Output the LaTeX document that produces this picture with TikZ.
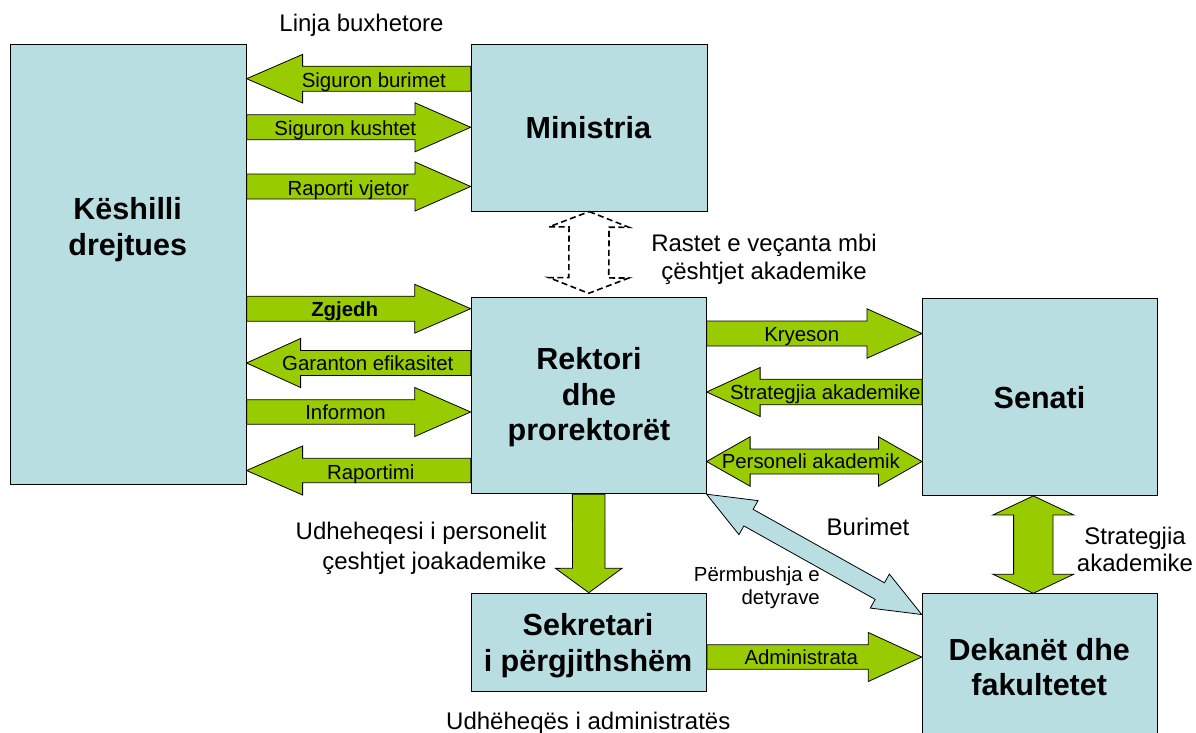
\documentclass[tikz,border=0pt]{standalone}
\usepackage{fontspec}
\setmainfont{Liberation Sans}
\usetikzlibrary{calc}
\definecolor{boxblue}{RGB}{185,222,226}
\definecolor{agreen}{RGB}{153,204,0}
% single block arrow: [style]{tail}{tip}{shaft half}{head half}{head length}
\newcommand\blockarrow[6][]{%
  \coordinate (BAt) at #2; \coordinate (BAp) at #3;
  \coordinate (BAb) at ($(BAp)!#6pt!(BAt)$);
  \draw[#1] ($(BAt)!#4pt!90:(BAp)$) -- ($(BAb)!#4pt!90:(BAp)$) -- ($(BAb)!#5pt!90:(BAp)$) -- (BAp)
     -- ($(BAb)!#5pt!-90:(BAp)$) -- ($(BAb)!#4pt!-90:(BAp)$) -- ($(BAt)!#4pt!-90:(BAp)$) -- cycle;}
% double block arrow: [style]{tip1}{tip2}{shaft half}{head half}{head length}
\newcommand\dblarrow[6][]{%
  \coordinate (DAa) at #2; \coordinate (DAz) at #3;
  \coordinate (DAb) at ($(DAa)!#6pt!(DAz)$); \coordinate (DAy) at ($(DAz)!#6pt!(DAa)$);
  \draw[#1] (DAa) -- ($(DAb)!#5pt!90:(DAz)$) -- ($(DAb)!#4pt!90:(DAz)$) -- ($(DAy)!#4pt!90:(DAz)$)
     -- ($(DAy)!#5pt!90:(DAz)$) -- (DAz) -- ($(DAy)!#5pt!-90:(DAz)$) -- ($(DAy)!#4pt!-90:(DAz)$)
     -- ($(DAb)!#4pt!-90:(DAz)$) -- ($(DAb)!#5pt!-90:(DAz)$) -- cycle;}
\begin{document}
\begin{tikzpicture}[x=1pt,y=-1pt,
  box/.style={draw=black, line width=0.9pt, fill=boxblue, inner sep=0pt, anchor=north west},
  garrow/.style={draw=black, line width=0.8pt, fill=agreen, line join=miter},
  barrow/.style={draw=black, line width=0.8pt, fill=boxblue, line join=miter},
  darrow/.style={draw=black, line width=1.6pt, dash pattern=on 6pt off 3.5pt, fill=white},
  lbl/.style={font=\fontsize{20.4}{23}\selectfont, anchor=base, inner sep=0pt},
  side/.style={font=\fontsize{24}{27.6}\selectfont, anchor=base, inner sep=0pt},
  title/.style={font=\fontsize{30.5}{35.8}\selectfont\bfseries, anchor=base, inner sep=0pt}]
\useasboundingbox (0,0) rectangle (1196,733);
\clip (0,0) rectangle (1196,733);
\fill[white] (0,0) rectangle (1196,733);
% boxes
\node[box, minimum width=235.7pt, minimum height=440pt] (kd) at (10,44) {};
\node[box, minimum width=236pt, minimum height=167pt] (mi) at (470.7,43.7) {};
\node[box, minimum width=235pt, minimum height=196pt] (rk) at (470.7,297.3) {};
\node[box, minimum width=235.3pt, minimum height=197pt] (se) at (922,298) {};
\node[box, minimum width=235.3pt, minimum height=98.3pt] (sk) at (470.7,592.7) {};
\node[box, minimum width=235.3pt, minimum height=160pt] (dk) at (921.7,593.3) {};
% box titles
\node[title] (tkd) at (127.7,219.3) {\begin{tabular}[t]{@{}c@{}}Këshilli\\drejtues\end{tabular}};
\node[title] (tmi) at (588.3,138.3) {Ministria};
\node[title] (trk) at (589,369.3) {\begin{tabular}[t]{@{}c@{}}Rektori\\dhe\\prorektorët\end{tabular}};
\node[title] (tse) at (1039.5,408) {Senati};
\node[title] (tsk) at (588,635) {\begin{tabular}[t]{@{}c@{}}Sekretari\\[0.9pt]i përgjithshëm\end{tabular}};
\node[title] (tdk) at (1039.2,660) {\begin{tabular}[t]{@{}c@{}}Dekanët dhe\\fakultetet\end{tabular}};
% arrows Keshilli <-> Ministria
\blockarrow[garrow]{(mi.west |- 0,78.7)}{(kd.east |- 0,78.7)}{12.5}{24.3}{56}
\blockarrow[garrow]{(kd.east |- 0,127.3)}{(mi.west |- 0,127.3)}{12.5}{24.5}{55.7}
\blockarrow[garrow]{(kd.east |- 0,186.5)}{(mi.west |- 0,186.5)}{12.5}{24.5}{55.7}
% arrows Keshilli <-> Rektori
\blockarrow[garrow]{(kd.east |- 0,308.7)}{(rk.west |- 0,308.7)}{12.5}{24.4}{56}
\blockarrow[garrow]{(rk.west |- 0,363)}{(kd.east |- 0,363)}{12.5}{24.5}{54}
\blockarrow[garrow]{(kd.east |- 0,412)}{(rk.west |- 0,412)}{12.2}{24.5}{56}
\blockarrow[garrow]{(rk.west |- 0,470.5)}{(kd.east |- 0,470.5)}{12.2}{24.5}{56}
% arrows Rektori <-> Senati
\blockarrow[garrow]{(rk.east |- 0,333.5)}{(se.west |- 0,333.5)}{12.5}{24.7}{55}
\blockarrow[garrow]{(se.west |- 0,392)}{(rk.east |- 0,392)}{12.8}{24.5}{53.5}
\dblarrow[garrow]{(rk.east |- 0,461.5)}{(se.west |- 0,461.5)}{12.5}{24.7}{43.5}
% others
\dblarrow[darrow]{(mi.south)}{($(rk.north)+(0,-4)$)}{20}{40}{15.5}
\blockarrow[garrow]{(rk.south)}{(sk.north)}{16.3}{33.3}{24.4}
\dblarrow[garrow]{(1033.3,0 |- se.south)}{(1033.3,0 |- dk.north)}{19.7}{40.3}{19}
\dblarrow[barrow]{(rk.south east)}{(dk.west |- 0,614.5)}{9.5}{19.5}{48}
\blockarrow[garrow]{(sk.east |- 0,657)}{(dk.west |- 0,657)}{12.2}{24.5}{53.4}
% arrow labels
\node[lbl] (l1) at (373.8,87.3) {Siguron burimet};
\node[lbl] (l2) at (345.3,135.7) {Siguron kushtet};
\node[lbl] (l3) at (348.3,195) {Raporti vjetor};
\node[lbl, font=\fontsize{20.4}{23}\selectfont\bfseries] (l4) at (344.7,316.7) {Zgjedh};
\node[lbl] (l5) at (367.8,370.7) {Garanton efikasitet};
\node[lbl] (l6) at (345.5,419.5) {Informon};
\node[lbl] (l7) at (370.8,479.3) {Raportimi};
\node[lbl] (l8) at (801.7,341.7) {Kryeson};
\node[lbl] (l9) at (825.3,399.5) {Strategjia akademike};
\node[lbl] (l10) at (810.8,468.5) {Personeli akademik};
\node[lbl] (l11) at (801.2,664.5) {Administrata};
% side labels
\node[side] (s1) at (361.5,31.5) {Linja buxhetore};
\node[side] (s2) at (764,251.7) {\begin{tabular}[t]{@{}c@{}}Rastet e veçanta mbi\\çështjet akademike\end{tabular}};
\node[side, anchor=base east] (s3) at (546.7,539.3) {\begin{tabular}[t]{@{}r@{}}Udheheqesi i personelit\\[2.4pt]çeshtjet joakademike\end{tabular}};
\node[side] (s4) at (868,535) {Burimet};
\node[lbl, anchor=base east] (s5) at (820,581) {\begin{tabular}[t]{@{}r@{}}Përmbushja e\\detyrave\end{tabular}};
\node[side] (s6) at (1135,544) {\begin{tabular}[t]{@{}c@{}}Strategjia\\akademike\end{tabular}};
\node[side] (s7) at (588.3,729.5) {Udhëheqës i administratës};
\end{tikzpicture}
\end{document}
